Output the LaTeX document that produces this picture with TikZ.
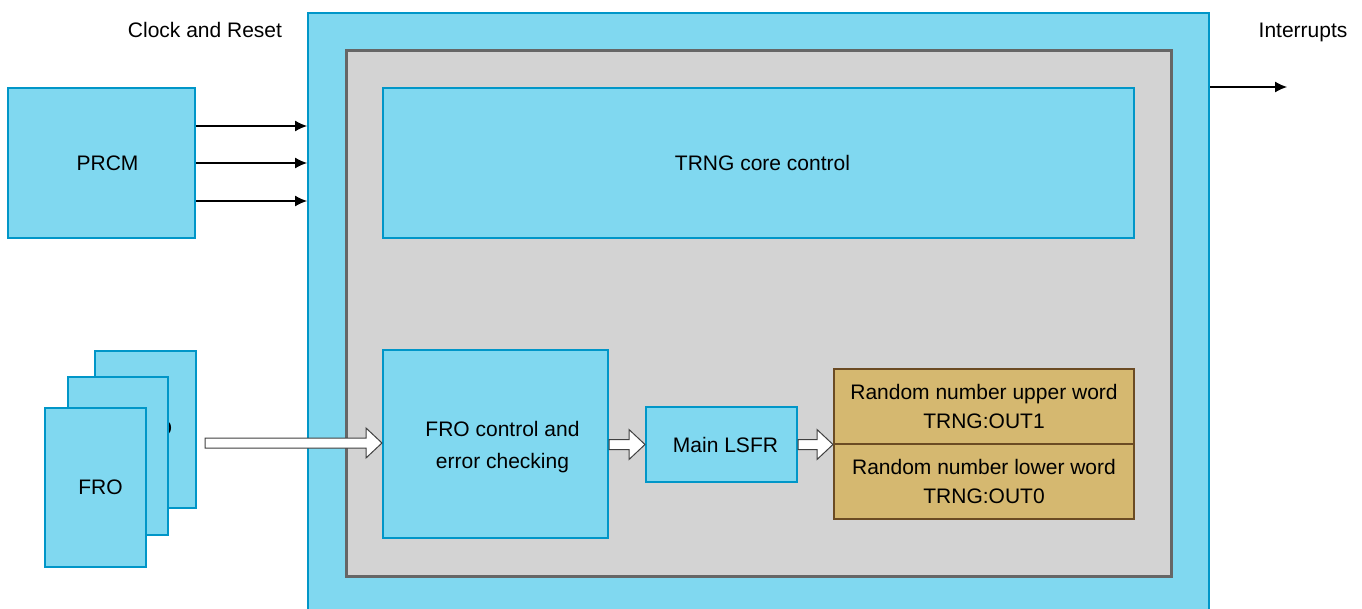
\documentclass[tikz,border=0pt]{standalone}
\usepackage{fontspec}
\setmainfont{Liberation Sans}
\usetikzlibrary{arrows.meta,calc}
\definecolor{tiblue}{RGB}{128,216,240}
\definecolor{tiborder}{RGB}{0,150,200}
\definecolor{grayfill}{RGB}{211,211,211}
\definecolor{grayborder}{RGB}{102,102,102}
\definecolor{goldfill}{RGB}{213,184,112}
\definecolor{brownborder}{RGB}{107,75,35}
\newcommand\blockarr[2]{%
  \draw[barrow] let \p1=(#1), \p2=(#2) in
   (\x1,\y1+5pt) -- (\x2-16pt,\y1+5pt) -- (\x2-16pt,\y1+15pt) -- (\x2,\y1)
   -- (\x2-16pt,\y1-15pt) -- (\x2-16pt,\y1-5pt) -- (\x1,\y1-5pt) -- cycle;}
\tikzset{
  txt/.style={font=\fontsize{21}{32}\selectfont, inner sep=0pt, align=center},
  bbox/.style={draw=tiborder, fill=tiblue, line width=2pt, anchor=north west, inner sep=0pt},
  graybox/.style={draw=grayborder, fill=grayfill, line width=2.5pt, anchor=north west, inner sep=0pt},
  goldbox/.style={draw=brownborder, fill=goldfill, line width=2pt, anchor=north west, inner sep=0pt},
  goldtxt/.style={txt, font=\fontsize{21}{29}\selectfont},
  sig/.style={line width=1.2pt, -{Latex[length=12pt,width=11pt]}},
  barrow/.style={draw=black!75, fill=white, line width=1pt, line join=miter},
}
\begin{document}
\begin{tikzpicture}[x=1pt,y=-1pt]
\useasboundingbox (0,0) rectangle (1362,608);
% outer block
\node[bbox, minimum width=901pt, minimum height=598pt] (outer) at (307,12) {};
\node[graybox, minimum width=825pt, minimum height=526pt] (core) at (345,49) {};
\node[bbox, minimum width=751pt, minimum height=150pt,
  label={[name=ctrlt, txt, xshift=4pt]center:TRNG core control}] (ctrl) at (382,87) {};
\node[bbox, minimum width=225pt, minimum height=188pt,
  label={[name=froct, txt, xshift=7pt, yshift=-3pt]center:FRO control and\\error checking}] (froc) at (382,349) {};
\node[bbox, minimum width=151pt, minimum height=75pt,
  label={[name=lsfrt, txt, xshift=4pt]center:Main LSFR}] (lsfr) at (645,406) {};
\node[goldbox, minimum width=300pt, minimum height=75pt,
  label={[name=upt, goldtxt]center:Random number upper word\\TRNG:OUT1}] (up) at (833,368) {};
\node[goldbox, minimum width=300pt, minimum height=75pt,
  label={[name=lowt, goldtxt]center:Random number lower word\\TRNG:OUT0}] (low) at (833,443) {};
% PRCM
\node[bbox, minimum width=187pt, minimum height=150pt,
  label={[name=prcmt, txt, xshift=6pt]center:PRCM}] (prcm) at (7,87) {};
% FRO stack
\node[bbox, minimum width=101pt, minimum height=157pt] (fro3) at (94,350) {};
\node[txt] (fro3t) at (150,428) {FRO};
\node[bbox, minimum width=100pt, minimum height=158pt] (fro2) at (67,376) {};
\node[bbox, minimum width=101pt, minimum height=159pt,
  label={[name=fro1t, txt, xshift=5pt]center:FRO}] (fro1) at (44,407) {};
% labels
\node[txt] (clk) at (205,30) {Clock and Reset};
\node[txt] (intr) at (1303,32) {Interrupts};
% signal arrows
\draw[sig] ([yshift=37pt]prcm.east) -- ([yshift=37pt]prcm.east -| outer.west);
\draw[sig] (prcm.east) -- (prcm.east -| outer.west);
\draw[sig] ([yshift=-38pt]prcm.east) -- ([yshift=-38pt]prcm.east -| outer.west);
\coordinate (intend) at (1287,87);
\draw[sig] (intend -| outer.east) -- (intend);
% block arrows
\coordinate (frostart) at (205,443);
\blockarr{frostart}{froc.west}
\blockarr{froc.east |- lsfr.west}{lsfr.west}
\blockarr{lsfr.east}{up.south west}
\end{tikzpicture}
\end{document}
